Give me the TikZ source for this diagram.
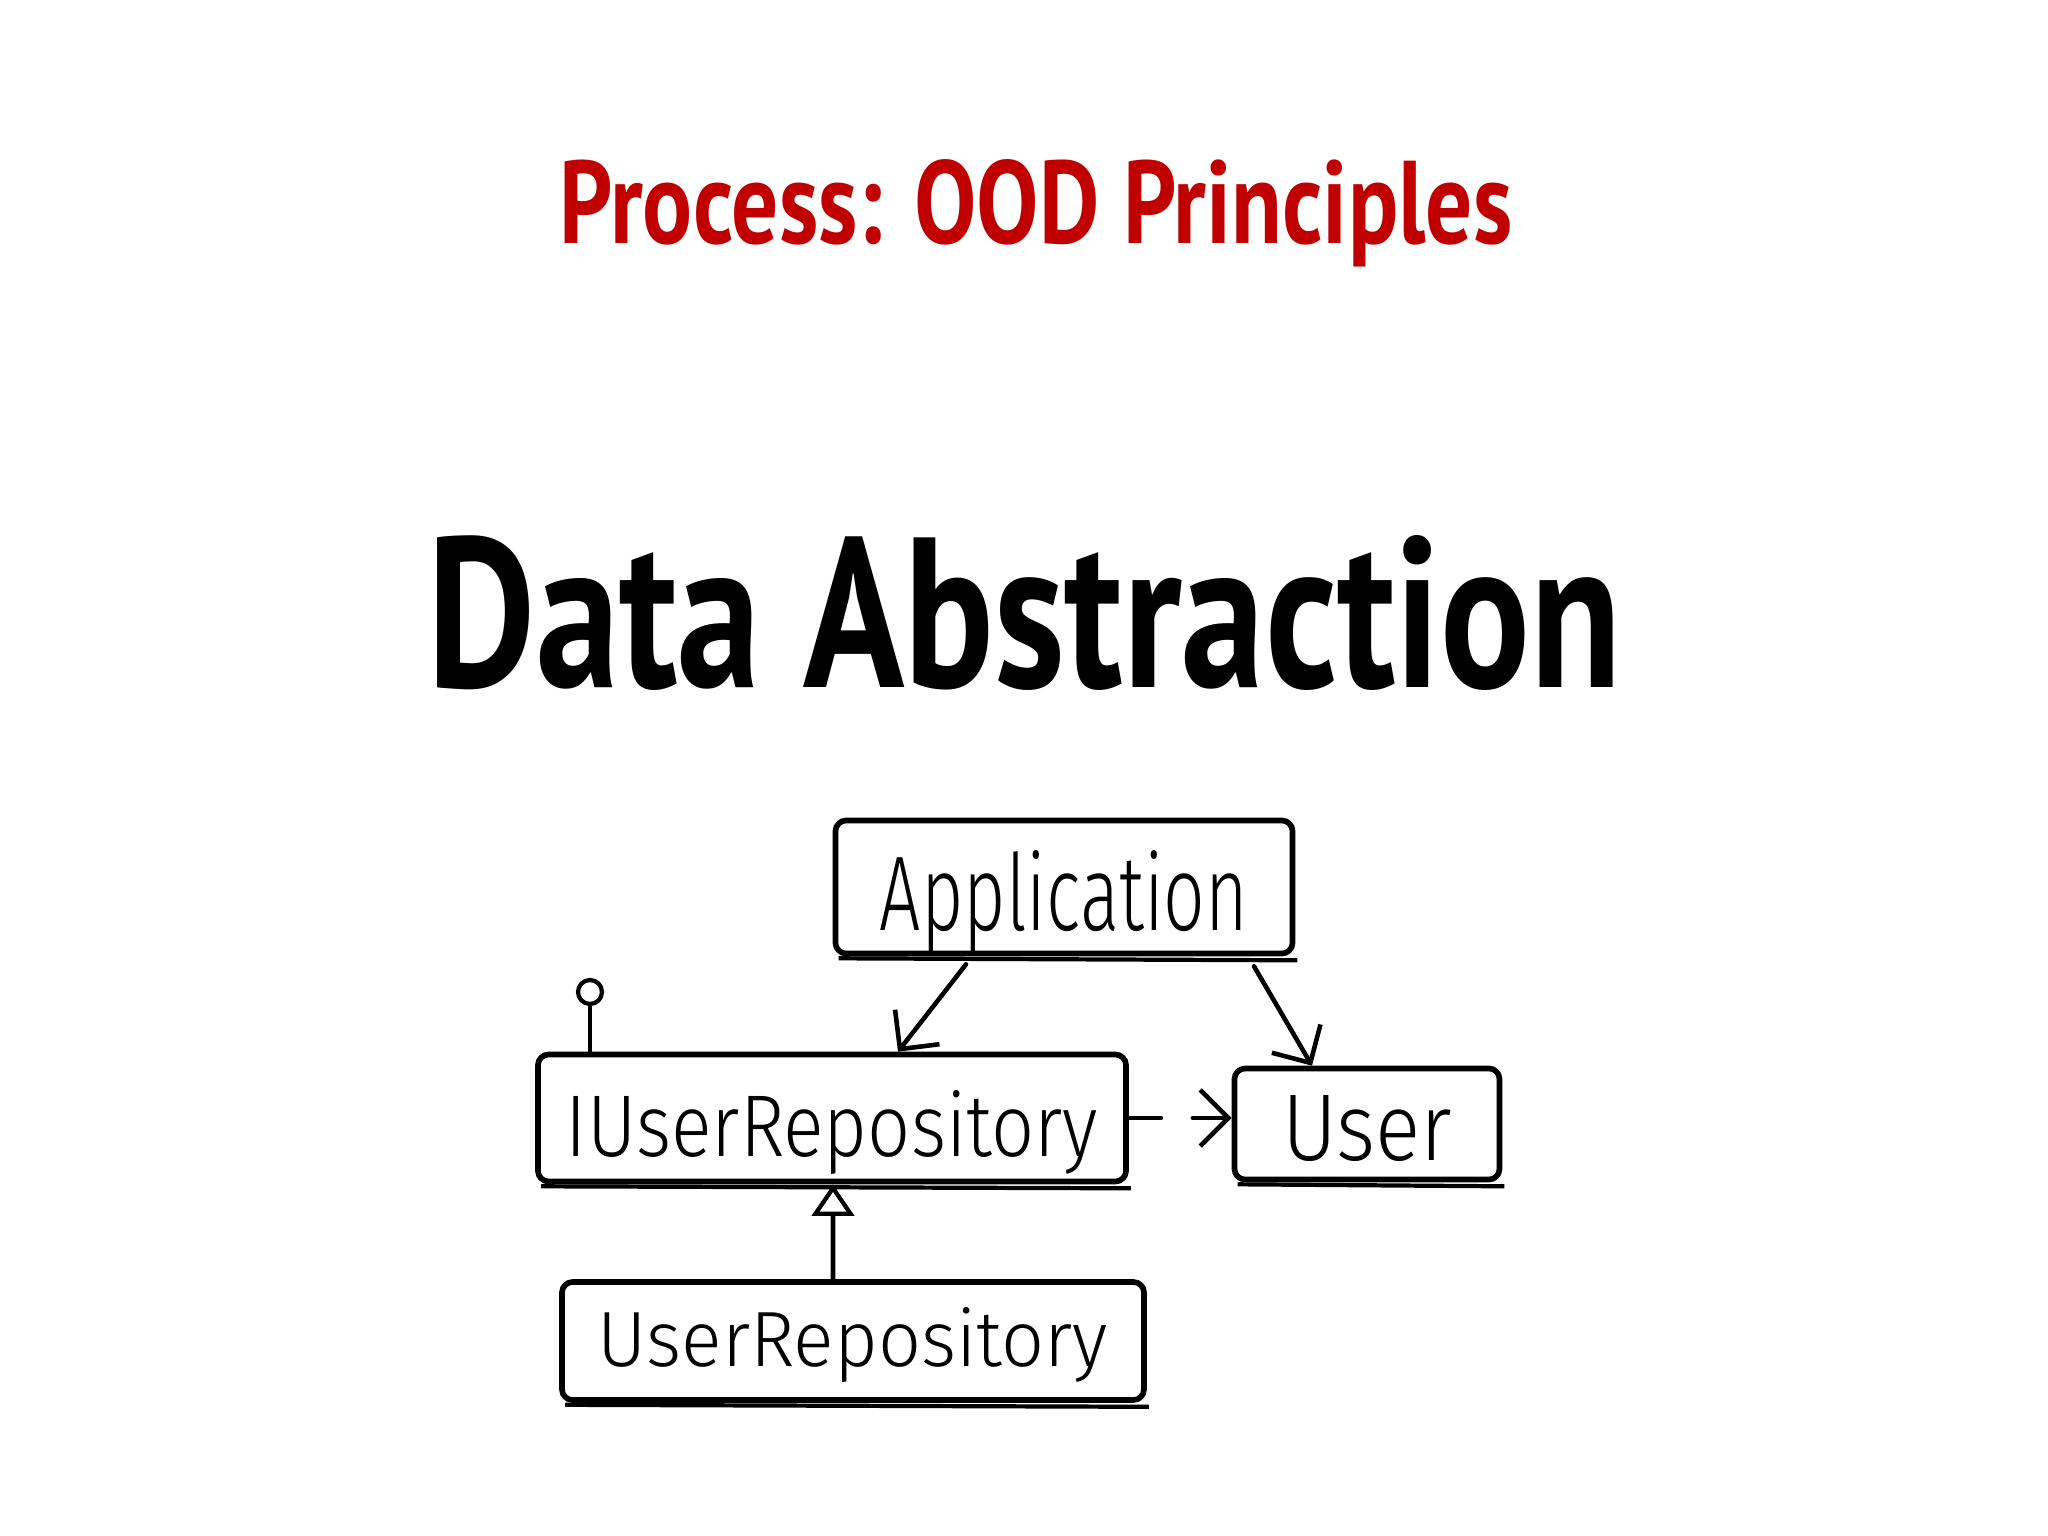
\documentclass[tikz,border=0pt]{standalone}
\usepackage{fontspec}
\setmainfont{PT Sans}
\newfontfamily\handfont{Fira Sans Light}
\usetikzlibrary{arrows.meta}
\definecolor{titlered}{RGB}{192,0,0}
% width, height, text, baseline offset from box centre
\newcommand\hw[4]{\raisebox{#4}[0pt][0pt]{\resizebox{#1}{#2}{\handfont #3}}}
\tikzset{
  cls/.style={draw, line width=1.6pt, rounded corners=3pt, inner sep=0pt},
  dep/.style={line width=1.3pt, line cap=round, -{Straight Barb[length=8pt,width=16pt,line width=1.3pt]}},
  inh/.style={line width=1.3pt, -{Triangle[open,length=9pt,width=12pt,line width=1.2pt]}}
}
\begin{document}
\begin{tikzpicture}[line join=round]
\useasboundingbox[fill=white] (0,0) rectangle (20.48,-15.36);
% headings
\node[anchor=base, text=titlered, inner sep=0pt] (title) at (10.36,-2.44) {\resizebox{9.53cm}{0.84cm}{\bfseries Process: OOD Principles}};
\node[anchor=base, inner sep=0pt] (head) at (10.25,-6.88) {\resizebox{11.94cm}{1.52cm}{\bfseries Data Abstraction}};
% classes
\node[cls, minimum width=4.57cm, minimum height=1.33cm] (app) at (10.64,-8.87) {\hw{3.68cm}{0.8cm}{Application}{-0.43cm}};
\node[cls, minimum width=5.88cm, minimum height=1.27cm] (irepo) at (8.32,-11.18) {\hw{5.32cm}{0.66cm}{IUserRepository}{-0.38cm}};
\node[cls, minimum width=2.65cm, minimum height=1.11cm] (user) at (13.67,-11.24) {\hw{1.70cm}{0.65cm}{User}{-0.36cm}};
\node[cls, minimum width=5.82cm, minimum height=1.18cm] (urepo) at (8.53,-13.41) {\hw{5.10cm}{0.59cm}{UserRepository}{-0.25cm}};
\foreach \n in {app,irepo,user,urepo}
  \draw[line width=1.2pt] ([shift={(0.06,-0.02)}]\n.south west) -- ([shift={(0.02,-0.04)}]\n.south east);
% interface lollipop
\node[draw, circle, line width=1.2pt, minimum size=0.24cm, inner sep=0pt] (lolly) at (5.90,-9.92) {};
\draw[line width=1.3pt] (lolly.south) -- (lolly.south |- irepo.north);
% connectors
\draw[dep] ([xshift=-0.98cm,yshift=-0.08cm]app.south) -- ([xshift=0.66cm]irepo.north);
\draw[dep] ([xshift=1.90cm,yshift=-0.10cm]app.south) -- ([xshift=-0.55cm]user.north);
\draw[dep, dash pattern=on 0.32cm off 0.32cm on 2cm] (irepo.east) -- (irepo.east -| user.west);
\draw[inh] ([xshift=-0.20cm]urepo.north) -- ([xshift=0.01cm]irepo.south);
\end{tikzpicture}
\end{document}
